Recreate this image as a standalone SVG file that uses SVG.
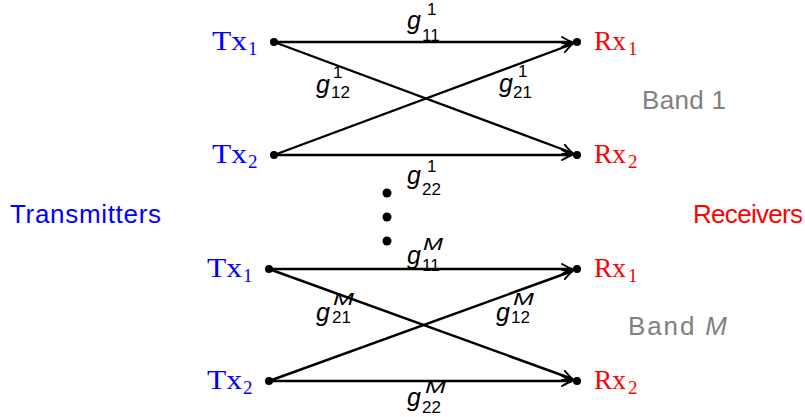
<svg xmlns="http://www.w3.org/2000/svg" width="805" height="417" viewBox="0 0 805 417">
<style>
.tx{font-family:"Liberation Serif",serif;font-size:27px;fill:#0000ff}
.rx{font-family:"Liberation Serif",serif;font-size:27px;fill:#ff0000}
.txs{font-family:"Liberation Serif",serif;font-size:19px;fill:#0000ff}
.rxs{font-family:"Liberation Serif",serif;font-size:19px;fill:#ff0000}
.g{font-family:"Liberation Sans",sans-serif;font-size:25px;font-style:italic;fill:#000}
.s{font-family:"Liberation Sans",sans-serif;font-size:17px;fill:#000}
.m{font-family:"Liberation Sans",sans-serif;font-size:17px;font-style:italic;fill:#000}
.side{font-family:"Liberation Sans",sans-serif;font-size:26px}
.band{font-family:"Liberation Sans",sans-serif;font-size:26px;fill:#808080}
.edge{stroke:#000;stroke-width:2.4;fill:none;marker-end:url(#arr)}
.dot{fill:#000}
</style>
<defs>
<marker id="arr" markerWidth="14" markerHeight="12" viewBox="-11 -6 14 12" refX="0" refY="0" orient="auto" markerUnits="userSpaceOnUse">
<path d="M-10,-5 Q-3,-1 0,0 Q-3,1 -10,5" fill="none" stroke="#000" stroke-width="1.9" stroke-linecap="round"/>
</marker>
</defs>
<g id="connectors">
<line class="edge" x1="274" y1="42" x2="572" y2="42"/>
<line class="edge" x1="274" y1="42" x2="572.5" y2="153"/>
<line class="edge" x1="274" y1="155" x2="572.5" y2="44"/>
<line class="edge" x1="274" y1="155" x2="572" y2="155"/>
<line class="edge" x1="269" y1="269" x2="572" y2="269"/>
<line class="edge" x1="269" y1="269" x2="572.5" y2="379"/>
<line class="edge" x1="269" y1="381" x2="572.5" y2="271"/>
<line class="edge" x1="269" y1="381" x2="572" y2="381"/>
</g>
<g id="labels">
<text class="g" x="407" y="29">g</text><text class="s" x="422" y="41">11</text><text class="s" x="427" y="15">1</text>
<text class="g" x="316" y="93">g</text><text class="s" x="331" y="98">12</text><text class="s" x="333" y="78">1</text>
<text class="g" x="499" y="92">g</text><text class="s" x="513" y="98">21</text><text class="s" x="518" y="77">1</text>
<text class="g" x="407" y="184">g</text><text class="s" x="422" y="195">22</text><text class="s" x="427" y="172">1</text>
<text class="g" x="407" y="264">g</text><text class="s" x="422" y="271">11</text><text class="m" x="423" y="250" textLength="20" lengthAdjust="spacingAndGlyphs">M</text>
<text class="g" x="316" y="321">g</text><text class="s" x="332" y="323">21</text><text class="m" x="333" y="305" textLength="21" lengthAdjust="spacingAndGlyphs">M</text>
<text class="g" x="496" y="321">g</text><text class="s" x="511" y="323">12</text><text class="m" x="513" y="305" textLength="21" lengthAdjust="spacingAndGlyphs">M</text>
<text class="g" x="407" y="406">g</text><text class="s" x="422" y="413">22</text><text class="m" x="425" y="393" textLength="21" lengthAdjust="spacingAndGlyphs">M</text>
</g>
<g id="tx1a"><text class="tx" x="212" y="50" textLength="35" lengthAdjust="spacingAndGlyphs">Tx</text><text class="txs" x="248" y="55">1</text><circle class="dot" cx="274" cy="42" r="4"/></g>
<g id="tx2a"><text class="tx" x="212" y="163" textLength="35" lengthAdjust="spacingAndGlyphs">Tx</text><text class="txs" x="248" y="168">2</text><circle class="dot" cx="274" cy="155" r="4"/></g>
<g id="rx1a"><circle class="dot" cx="577" cy="42" r="4"/><text class="rx" x="594" y="50" textLength="32" lengthAdjust="spacingAndGlyphs">Rx</text><text class="rxs" x="628" y="55">1</text></g>
<g id="rx2a"><circle class="dot" cx="577" cy="155" r="4"/><text class="rx" x="594" y="163" textLength="32" lengthAdjust="spacingAndGlyphs">Rx</text><text class="rxs" x="628" y="168">2</text></g>
<g id="tx1m"><text class="tx" x="207" y="277" textLength="35" lengthAdjust="spacingAndGlyphs">Tx</text><text class="txs" x="243" y="282">1</text><circle class="dot" cx="269" cy="269" r="4"/></g>
<g id="tx2m"><text class="tx" x="207" y="389" textLength="35" lengthAdjust="spacingAndGlyphs">Tx</text><text class="txs" x="243" y="394">2</text><circle class="dot" cx="269" cy="381" r="4"/></g>
<g id="rx1m"><circle class="dot" cx="577" cy="269" r="4"/><text class="rx" x="594" y="277" textLength="32" lengthAdjust="spacingAndGlyphs">Rx</text><text class="rxs" x="628" y="282">1</text></g>
<g id="rx2m"><circle class="dot" cx="577" cy="381" r="4"/><text class="rx" x="594" y="389" textLength="32" lengthAdjust="spacingAndGlyphs">Rx</text><text class="rxs" x="628" y="394">2</text></g>
<g id="vdots"><circle class="dot" cx="387" cy="193" r="4.5"/><circle class="dot" cx="387" cy="217" r="4.5"/><circle class="dot" cx="387" cy="241" r="4.5"/></g>
<g id="transmitters"><text class="side" x="10" y="223" fill="#0000ff" textLength="151">Transmitters</text></g>
<g id="receivers"><text class="side" x="693" y="223" fill="#ff0000" textLength="110">Receivers</text></g>
<g id="band1"><text class="band" x="642" y="109" textLength="84">Band 1</text></g>
<g id="bandM"><text class="band" x="628" y="335" textLength="99">Band <tspan font-style="italic">M</tspan></text></g>
</svg>
